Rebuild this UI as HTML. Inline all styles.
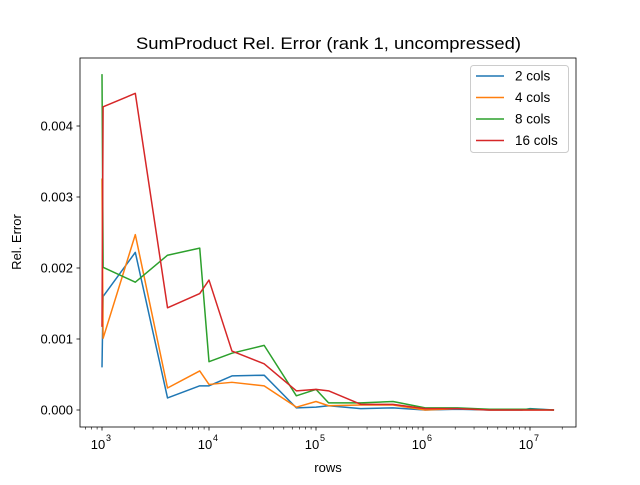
<!DOCTYPE html>
<html><head><meta charset="utf-8"><style>body{margin:0;background:#fff}svg{font-family:"Liberation Sans",sans-serif}</style></head>
<body>
<svg id="c" width="640" height="480"></svg>
<script>
const xs=[1000,1024,2048,4096,8192,10000,16384,32768,65536,100000,131072,262144,524288,1048576,2097152,4194304,8388608,10000000,16777216];
const s2=[0.0006,0.0016,0.00222,0.00017,0.00034,0.00034,0.00048,0.00049,0.00003,0.00004,0.00006,0.00002,0.00003,0.0,0.00001,0.0,0.0,0.00002,0.0];
const s4=[0.00326,0.00101,0.00247,0.00031,0.00055,0.00036,0.00039,0.00034,0.00004,0.00012,0.00006,0.00007,0.00007,0.0,0.00002,0.0,0.0,0.0,0.0];
const s8=[0.00473,0.00201,0.0018,0.00218,0.00228,0.00068,0.0008,0.00091,0.0002,0.00029,0.0001,0.0001,0.00012,0.00003,0.00003,0.00001,0.00001,0.00001,0.0];
const s16=[0.00117,0.00427,0.00446,0.00144,0.00164,0.00183,0.00083,0.00065,0.00027,0.00029,0.00027,0.00008,0.00008,0.00002,0.00002,0.0,0.0,0.0,0.0];
const names=["2 cols","4 cols","8 cols","16 cols"];
const colors=["#1f77b4","#ff7f0e","#2ca02c","#d62728"];
const yTicks=[0,0.001,0.002,0.003,0.004];
const yLabels=["0.000","0.001","0.002","0.003","0.004"];
const xDecades=[3,4,5,6,7];
const NS="http://www.w3.org/2000/svg",svg=document.getElementById('c');
const X=v=>102+(Math.log10(v)-3)*107, Y=v=>410-v*71000;
function el(t,a,p){const e=document.createElementNS(NS,t);for(const k in a)e.setAttribute(k,a[k]);(p||svg).appendChild(e);return e;}
const t=el('text',{x:136,y:49,'font-size':17,textLength:385,lengthAdjust:'spacingAndGlyphs'});t.textContent="SumProduct Rel. Error (rank 1, uncompressed)";


for(let d=2;d<=7;d++)for(let m=2;m<10;m++){const v=m*Math.pow(10,d),x=X(v);if(x<80||x>576)continue;
 el('line',{x1:x,x2:x,y1:427,y2:429.5,stroke:'#000','stroke-width':0.6});}
xDecades.forEach(d=>{const x=X(Math.pow(10,d));el('line',{x1:x,x2:x,y1:427,y2:430.5,stroke:'#000','stroke-width':0.8});
 const tx=el('text',{x:x-4,y:449,'text-anchor':'middle','font-size':13});tx.textContent='10';
 
 
 const sp=el('text',{x:x+4,y:441,'font-size':9});sp.textContent=d;});
yTicks.forEach((v,i)=>{const y=Y(v);el('line',{x1:76.5,x2:80,y1:y,y2:y,stroke:'#000','stroke-width':0.8});
 const tx=el('text',{x:73,y:y+4.5,'text-anchor':'end','font-size':13});tx.textContent=yLabels[i];
 
 });
[s2,s4,s8,s16].forEach((s,i)=>{const p=el('polyline',{points:xs.map((x,j)=>X(x)+','+Y(s[j])).join(' '),fill:'none',stroke:colors[i],'stroke-width':1.5,'stroke-linejoin':'round'});
 
 });
el('rect',{x:80,y:58,width:496,height:369,fill:'none',stroke:'#000','stroke-width':0.8});
const xl=el('text',{x:328,y:472,'text-anchor':'middle','font-size':13});xl.textContent='rows';


const yl=el('text',{x:21,y:242,'text-anchor':'middle','font-size':13,transform:'rotate(-90 21 242)'});yl.textContent='Rel. Error';


const lg=el('g',{});


el('rect',{x:470.5,y:65.5,width:98,height:87,rx:3,fill:'#fff',stroke:'#ccc'},lg);
names.forEach((n,i)=>{const y=76+i*21.5;el('line',{x1:476,x2:504,y1:y,y2:y,stroke:colors[i],'stroke-width':1.5},lg);
 const tx=el('text',{x:515,y:y+4.5,'font-size':13.5},lg);tx.textContent=n;
 
 });
</script>
</body></html>
